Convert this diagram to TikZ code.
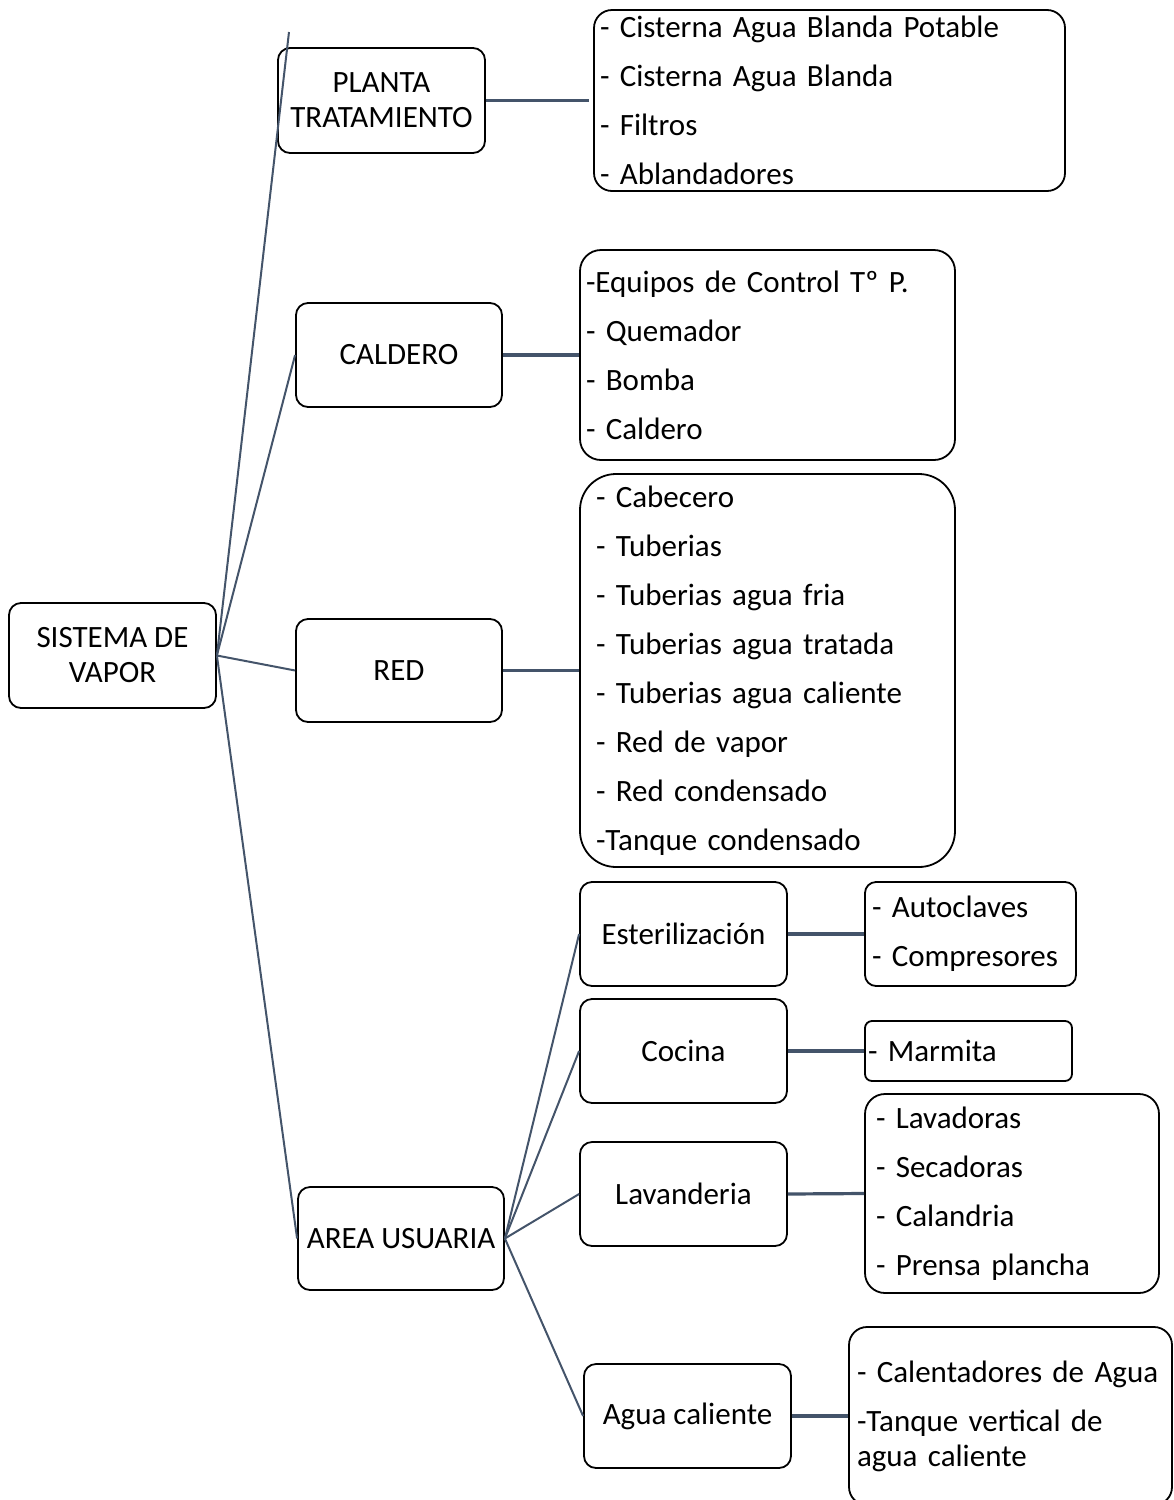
\documentclass[tikz,border=0pt]{standalone}
\usepackage{fontspec}
\setmainfont{Carlito}
\begin{document}
\begin{tikzpicture}[x=1pt,y=-1pt,
  box/.style={draw=black,line width=1.8pt,rounded corners=12pt,fill=white,
    inner sep=0pt,align=center,font=\fontsize{31}{35}\selectfont},
  listbox/.style={draw=black,line width=1.8pt,rounded corners=#1,fill=white,
    inner xsep=6pt,inner ysep=0pt,align=left,font=\fontsize{31}{35}\selectfont},
  listbox/.default=18pt,
  link/.style={draw=lineblue,line width=2pt},
  hlink/.style={draw=lineblue,line width=3.2pt}]
\definecolor{lineblue}{HTML}{44546A}
\useasboundingbox (0,0) rectangle (1174,1500);

% free end of the first branch
\coordinate (top) at (289,32);

% main branches
\node[box,minimum width=207pt,minimum height=105pt] (sys) at (112.5,655.5) {SISTEMA DE\\VAPOR};
\node[box,minimum width=207pt,minimum height=105pt] (planta) at (381.5,100.5) {PLANTA\\TRATAMIENTO};
\node[box,minimum width=206pt,minimum height=104pt] (caldero) at (399,355) {CALDERO};
\node[box,minimum width=206pt,minimum height=103pt] (red) at (399,670.5) {RED};
\node[box,minimum width=206pt,minimum height=103pt] (area) at (401,1238.5) {AREA USUARIA};

% sub-areas
\node[box,minimum width=207pt,minimum height=104pt] (ester) at (683.5,934) {Esterilización};
\node[box,minimum width=207pt,minimum height=104pt] (cocina) at (683.5,1051) {Cocina};
\node[box,minimum width=207pt,minimum height=104pt] (lav) at (683.5,1194) {Lavanderia};
\node[box,minimum width=207pt,minimum height=104pt] (agua) at (687.5,1416) {Agua caliente};

% equipment lists
\node[listbox=18pt,text width=459pt,minimum height=181pt] (l1) at (829.5,100.5)
  {- Cisterna Agua Blanda Potable\\[14pt]- Cisterna Agua Blanda\\[14pt]- Filtros\\[14pt]- Ablandadores};
\node[listbox=21pt,text width=363pt,minimum height=210pt] (l2) at (767.5,355)
  {-Equipos de Control Tº P.\\[14pt]- Quemador\\[14pt]- Bomba\\[14pt]- Caldero};
\node[listbox=36pt,inner xsep=16pt,text width=343pt,minimum height=393pt] (l3) at (767.5,670.5)
  {- Cabecero\\[14pt]- Tuberias\\[14pt]- Tuberias agua fria\\[14pt]- Tuberias agua tratada\\[14pt]- Tuberias agua caliente\\[14pt]- Red de vapor\\[14pt]- Red condensado\\[14pt]-Tanque condensado};
\node[listbox=11pt,inner xsep=7pt,text width=197pt,minimum height=104pt] (l4) at (970.5,934)
  {- Autoclaves\\[14pt]- Compresores};
\node[listbox=7pt,inner xsep=3pt,text width=201pt,minimum height=60pt] (l5) at (968.5,1051)
  {- Marmita};
\node[listbox=20pt,inner xsep=11pt,text width=272pt,minimum height=199pt] (l6) at (1012,1193.5)
  {- Lavadoras\\[14pt]- Secadoras\\[14pt]- Calandria\\[14pt]- Prensa plancha};
\node[listbox=18pt,inner xsep=8pt,text width=307pt,minimum height=178pt] (l7) at (1010.5,1416)
  {- Calentadores de Agua\\[14pt]-Tanque vertical de\\agua caliente};

% connectors
\draw[link] (sys.east) -- (top);
\draw[link] (sys.east) -- (caldero.west);
\draw[link] (sys.east) -- (red.west);
\draw[link] (sys.east) -- (area.west);
\draw[hlink] (planta.east) -- ([xshift=-4pt]l1.west);
\draw[hlink] (caldero.east) -- (l2.west);
\draw[hlink] (red.east) -- (l3.west);
\draw[link] (area.east) -- (ester.west);
\draw[link] (area.east) -- (cocina.west);
\draw[link] (area.east) -- (lav.west);
\draw[link] (area.east) -- (agua.west);
\draw[hlink] (ester.east) -- (l4.west);
\draw[hlink] (cocina.east) -- (l5.west);
\draw[hlink] (lav.east) -- (l6.west);
\draw[hlink] (agua.east) -- (l7.west);
\end{tikzpicture}
\end{document}
